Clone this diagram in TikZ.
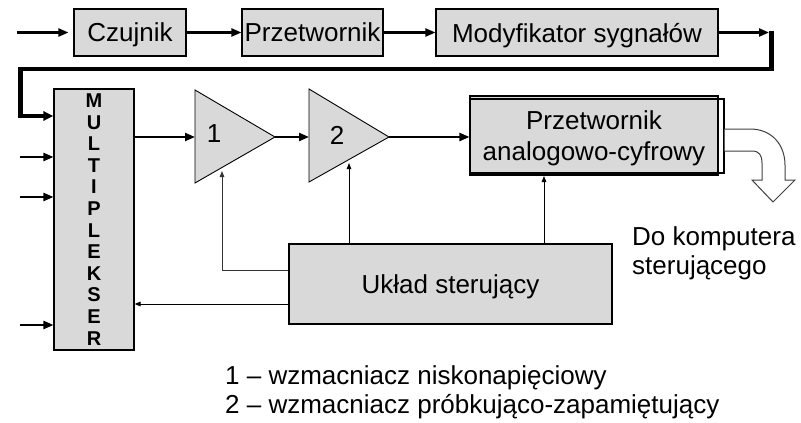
\documentclass[tikz,border=0pt]{standalone}
\usepackage{fontspec}
\setmainfont{Liberation Sans}
\usetikzlibrary{arrows.meta}
\definecolor{boxgray}{RGB}{217,217,217}
\begin{document}
\begin{tikzpicture}[x=1pt,y=-1pt,
  blk/.style={draw=black, line width=1.1pt, fill=boxgray, inner sep=0pt, text depth=0pt, font=\fontsize{26}{31}\selectfont, align=center},
  sig/.style={line width=2.2pt, -{Triangle[length=10pt,width=8pt]}},
  thickline/.style={line width=4.5pt, line join=miter},
  ctl/.style={line width=1pt, -{Triangle[length=6pt,width=4.5pt]}},
  amp/.style={draw=black, line width=0.9pt, fill=boxgray},
  txt/.style={inner sep=0pt, font=\fontsize{26}{31}\selectfont}]
\useasboundingbox (0,0) rectangle (801,423);

% top row
\node[blk, minimum width=112pt, minimum height=47pt] (czuj) at (130,32.5) {Czujnik};
\node[blk, minimum width=141pt, minimum height=47pt] (przet) at (312.5,32.5) {Przetwornik};
\node[blk, minimum width=282pt, minimum height=47pt] (mod) at (577,32.5) {Modyfikator sygnałów};
\coordinate (in0) at (17,32.5);
\coordinate (l0) at (769,32.5);
\coordinate (l1) at (771.5,30.5);
\coordinate (l2) at (771.5,69);
\coordinate (l3) at (20.5,69);
\coordinate (l4) at (20.5,116);
\draw[sig, shorten >=5pt] (in0) -- (czuj.west);
\draw[sig] (czuj.east) -- (przet.west);
\draw[sig] (przet.east) -- (mod.west);
\draw[sig] (mod.east) -- (l0);

% multiplexer
\node[blk, minimum width=80pt, minimum height=261pt, font=\fontsize{20}{21.6}\selectfont\bfseries] (mux) at (94,219.5)
  {M\\U\\L\\T\\I\\P\\L\\E\\K\\S\\E\\R};
\draw[thickline, -{Triangle[length=10pt,width=9pt]}] (l1) -- (l2) -- (l3) -- (l4) -- (mux.west |- l4);
\coordinate (i1) at (20,157);
\coordinate (i2) at (20,197);
\coordinate (i3) at (20,325);
\draw[sig] (i1) -- (mux.west |- i1);
\draw[sig] (i2) -- (mux.west |- i2);
\draw[sig] (i3) -- (mux.west |- i3);

% amplifiers
\coordinate (t1a) at (195,90);
\coordinate (t1b) at (195,183);
\coordinate (t1o) at (275,137);
\coordinate (t1in) at (195,137);
\coordinate (t2a) at (309,89);
\coordinate (t2b) at (309,182);
\coordinate (t2o) at (389,137);
\coordinate (t2in) at (309,137);
\draw[amp] (t1a) -- (t1o) -- (t1b) -- cycle;
\draw[amp] (t2a) -- (t2o) -- (t2b) -- cycle;
\node[txt] (n1) at (214,134) {1};
\node[txt] (n2) at (337,135) {2};

% ADC
\node[blk, minimum width=248pt, minimum height=79pt] (adc) at (594,135.5) {Przetwornik\\analogowo-cyfrowy};
\node[draw=black, line width=1.1pt, inner sep=0pt, minimum width=254pt, minimum height=74pt] (adc2) at (597,136) {};

\draw[sig] (mux.east |- t1in) -- (t1in);
\draw[sig] (t1o) -- (t2in);
\draw[sig] (t2o) -- (adc.west |- t2o);

% output hollow arrow
\draw[draw=black!75, line width=1pt, fill=white]
  (adc2.east |- 0,129) -- (750,129) .. controls (772,129) and (785,145) .. (785,165)
  -- (785,180) -- (795,180) -- (773,202) -- (752,180) -- (762,180) -- (762,163)
  .. controls (762,155) and (759,151) .. (752,151) -- (adc2.east |- 0,151);
\node[txt, anchor=base west] (dk1) at (632,245) {Do komputera};
\node[txt, anchor=base west] (dk2) at (632,274) {sterującego};

% control block
\node[blk, minimum width=323pt, minimum height=80pt] (ctrl) at (450.5,284) {Układ sterujący};
\coordinate (k1) at (222,171);
\coordinate (k2) at (349,163);
\coordinate (k3) at (544,176);
\coordinate (m5) at ([yshift=-20pt]ctrl.west);
\draw[ctl, draw=black!80] ([yshift=14pt]ctrl.west) -| (k1);
\draw[ctl] (ctrl.north -| k2) -- (k2);
\draw[ctl] (ctrl.north -| k3) -- (k3);
\draw[ctl] (m5) -- (mux.east |- m5);

% legend
\node[txt, anchor=base west] (lg1) at (225,384) {1 – wzmacniacz niskonapięciowy};
\node[txt, anchor=base west] (lg2) at (225,413) {2 – wzmacniacz próbkująco-zapamiętujący};
\end{tikzpicture}
\end{document}
